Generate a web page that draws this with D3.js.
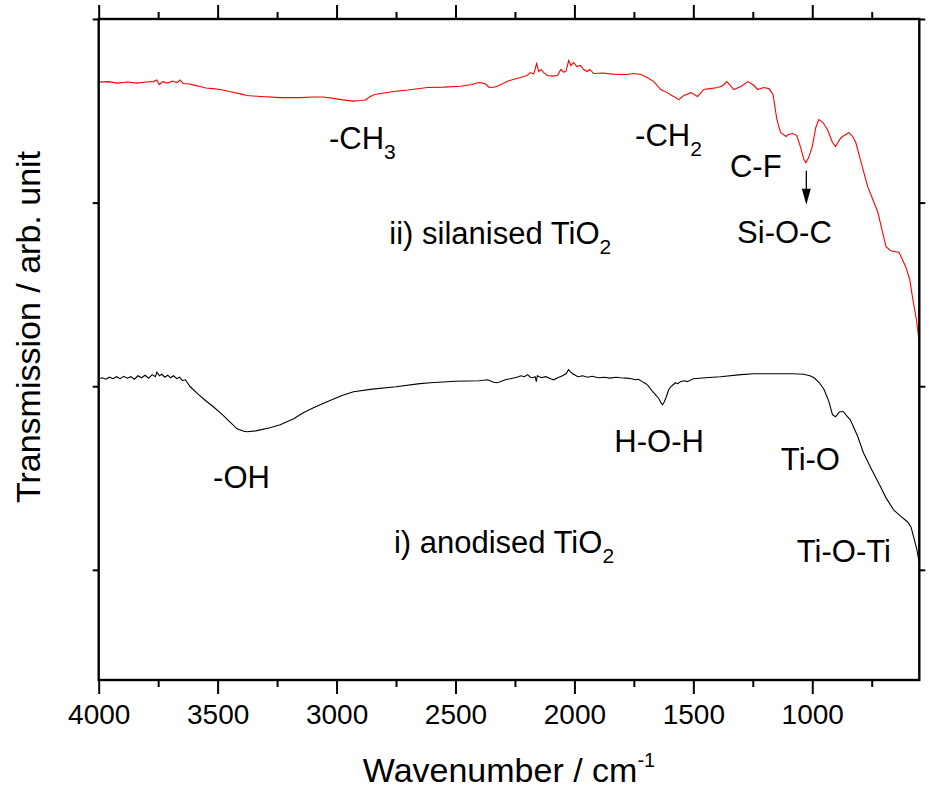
<!DOCTYPE html>
<html><head><meta charset="utf-8">
<script src="https://cdn.jsdelivr.net/npm/d3@7/dist/d3.min.js"></script>
<style>
body{margin:0;background:#fff}
text{font-family:"Liberation Sans",Arial,Helvetica,sans-serif;fill:#000}
</style>
</head><body>
<svg id="chart" width="937" height="798"></svg>
<script>
// ---- data ----
const silanisedWavenumber = [4000,3960,3920,3880,3840,3800,3770,3756,3745,3730,3710,3690,3670,3658,3645,3620,3600,3574,3550,3520,3490,3440,3400,3378,3320,3237,3150,3100,3056,3020,2980,2930,2900,2880,2858,2840,2800,2760,2700,2618,2550,2479,2430,2403,2385,2373,2360,2345,2324,2300,2282,2250,2226,2200,2184,2171,2159,2150,2140,2129,2113,2090,2071,2057,2045,2036,2024,2015,2003,1990,1975,1961,1947,1935,1919,1880,1840,1800,1778,1750,1720,1694,1666,1637,1610,1590,1561,1540,1510,1482,1456,1430,1397,1375,1359,1345,1330,1300,1271,1250,1229,1205,1182,1165,1150,1140,1132,1110,1100,1082,1065,1050,1035,1027,1015,1000,985,973,955,936,915,902,885,873,846,830,817,800,767,745,724,705,690,670,635,607,590,577,562,550];
const silanisedValue = [2.656,2.659,2.651,2.657,2.651,2.657,2.659,2.668,2.643,2.659,2.651,2.662,2.654,2.668,2.649,2.646,2.640,2.632,2.624,2.621,2.616,2.602,2.591,2.583,2.578,2.572,2.572,2.575,2.575,2.569,2.561,2.553,2.556,2.559,2.578,2.589,2.597,2.605,2.613,2.627,2.629,2.634,2.643,2.654,2.651,2.646,2.629,2.627,2.634,2.649,2.661,2.673,2.681,2.692,2.708,2.700,2.757,2.714,2.725,2.708,2.692,2.689,2.692,2.725,2.711,2.714,2.774,2.747,2.763,2.741,2.747,2.725,2.714,2.725,2.703,2.706,2.700,2.698,2.698,2.703,2.698,2.681,2.659,2.616,2.599,2.583,2.561,2.583,2.599,2.578,2.616,2.621,2.627,2.638,2.659,2.638,2.616,2.632,2.659,2.643,2.616,2.627,2.621,2.589,2.463,2.409,2.381,2.360,2.371,2.376,2.365,2.305,2.234,2.218,2.245,2.305,2.409,2.452,2.436,2.398,2.327,2.305,2.343,2.360,2.381,2.360,2.327,2.245,2.087,2.016,1.946,1.842,1.760,1.738,1.728,1.651,1.580,1.471,1.362,1.237];

const anodisedWavenumber = [4000,3985,3970,3955,3940,3925,3910,3895,3880,3865,3850,3835,3820,3805,3790,3775,3762,3755,3745,3735,3722,3710,3698,3685,3672,3660,3648,3636,3615,3580,3550,3518,3480,3450,3418,3390,3376,3340,3280,3237,3180,3140,3097,3040,2980,2929,2850,2750,2650,2605,2500,2400,2365,2340,2323,2290,2270,2250,2235,2226,2210,2197,2185,2175,2165,2160,2156,2140,2120,2100,2087,2070,2050,2035,2025,2017,2008,2000,1985,1965,1946,1925,1900,1875,1850,1825,1806,1780,1760,1745,1730,1715,1700,1690,1678,1667,1655,1645,1636,1630,1622,1615,1604,1595,1585,1575,1565,1554,1540,1525,1500,1450,1386,1300,1246,1150,1080,1036,1010,992,970,950,930,915,902,885,869,855,840,810,785,750,713,690,658,630,600,585,574,560,550];
const anodisedValue = [1.041,1.046,1.038,1.049,1.041,1.052,1.041,1.054,1.044,1.052,1.038,1.057,1.046,1.060,1.044,1.063,1.052,1.076,1.057,1.065,1.049,1.060,1.046,1.057,1.041,1.049,1.030,1.035,0.997,0.954,0.921,0.888,0.845,0.807,0.768,0.755,0.752,0.757,0.774,0.790,0.823,0.856,0.883,0.916,0.948,0.970,0.984,0.997,1.014,1.019,1.027,1.030,1.035,1.022,1.019,1.035,1.041,1.046,1.052,1.057,1.052,1.063,1.049,1.046,1.052,1.025,1.057,1.046,1.052,1.041,1.035,1.046,1.057,1.068,1.090,1.079,1.068,1.063,1.052,1.057,1.049,1.054,1.046,1.049,1.044,1.049,1.046,1.044,1.041,1.035,1.038,1.025,1.014,1.003,0.981,0.965,0.948,0.932,0.910,0.899,0.915,0.937,0.981,0.997,1.008,1.019,1.014,1.025,1.030,1.025,1.041,1.046,1.052,1.063,1.068,1.068,1.068,1.065,1.057,1.046,1.019,0.981,0.916,0.845,0.834,0.861,0.861,0.839,0.817,0.730,0.638,0.545,0.452,0.392,0.327,0.294,0.262,0.234,0.180,0.109,0.038];

const xTicks = [4000,3500,3000,2500,2000,1500,1000];
const xMinorTicks = [3750,3250,2750,2250,1750,1250,750];
const yTicks = [0,1,2,3];

const annotations = [
  {text:"-CH", sub:"3", w:3032, v:2.294},
  {text:"-CH", sub:"2", w:1745, v:2.310},
  {text:"C-F", w:1346, v:2.141},
  {text:"Si-O-C", w:1316, v:1.781},
  {text:"ii) silanised TiO", sub:"2", w:2778, v:1.776},
  {text:"-OH", w:3519, v:0.447},
  {text:"i) anodised TiO", sub:"2", w:2759, v:0.093},
  {text:"H-O-H", w:1832, v:0.643},
  {text:"Ti-O", w:1132, v:0.545},
  {text:"Ti-O-Ti", w:1065, v:0.044}
];
const arrowW = 1025, arrowFrom = 2.174, arrowTo = 1.989;

// ---- layout ----
const svg = d3.select("#chart");
const L = 98.7, R = 919.3, T = 19, B = 680;
const x = d3.scaleLinear().domain([4000, 550]).range([L, R]);
const y = d3.scaleLinear().domain([-0.6, 3]).range([B, T]);

const line = d3.line().x(d => x(d[0])).y(d => y(d[1]));

svg.append("path")
  .datum(silanisedWavenumber.map((w,i)=>[w, silanisedValue[i]]))
  .attr("d", line).attr("fill","none").attr("stroke","#ff0000").attr("stroke-width",1.1);
svg.append("path")
  .datum(anodisedWavenumber.map((w,i)=>[w, anodisedValue[i]]))
  .attr("d", line).attr("fill","none").attr("stroke","#000").attr("stroke-width",1.1);

// axes
function styleAxis(g){
  g.select(".domain").remove();
  g.selectAll(".tick line").attr("stroke","#000").attr("stroke-width",2);
}
const fsTick = 28;
svg.append("g").attr("transform",`translate(0,${B})`)
  .call(d3.axisBottom(x).tickValues(xTicks).tickSize(14).tickPadding(10).tickFormat(d3.format("d")))
  .call(styleAxis)
  .call(g=>g.selectAll("text").attr("font-size",fsTick).attr("font-family",'"Liberation Sans",Arial,sans-serif'));
svg.append("g").attr("transform",`translate(0,${B})`)
  .call(d3.axisBottom(x).tickValues(xMinorTicks).tickSize(7).tickFormat(""))
  .call(styleAxis);
svg.append("g").attr("transform",`translate(0,${T})`)
  .call(d3.axisTop(x).tickValues(xTicks).tickSize(14).tickFormat(""))
  .call(styleAxis);
svg.append("g").attr("transform",`translate(0,${T})`)
  .call(d3.axisTop(x).tickValues(xMinorTicks).tickSize(7).tickFormat(""))
  .call(styleAxis);
svg.append("g").attr("transform",`translate(${L},0)`)
  .call(d3.axisLeft(y).tickValues(yTicks).tickSize(6).tickFormat(""))
  .call(styleAxis);
svg.append("g").attr("transform",`translate(${R},0)`)
  .call(d3.axisRight(y).tickValues(yTicks).tickSize(6).tickFormat(""))
  .call(styleAxis);

// frame
svg.append("rect").attr("x",L).attr("y",T).attr("width",R-L).attr("height",B-T)
  .attr("fill","none").attr("stroke","#000").attr("stroke-width",2.4);

// axis titles
const xt = svg.append("text").attr("x",(L+R)/2).attr("y",782)
  .attr("text-anchor","middle").attr("font-size",34);
xt.append("tspan").text("Wavenumber / cm");
xt.append("tspan").attr("font-size",20).attr("dy",-15).text("-1");

svg.append("text").attr("transform",`translate(40,${327}) rotate(-90)`)
  .attr("text-anchor","middle").attr("font-size",34).text("Transmission / arb. unit");

// annotations
annotations.forEach(a=>{
  const t = svg.append("text").attr("x",x(a.w)).attr("y",y(a.v)).attr("font-size",31);
  t.append("tspan").text(a.text);
  if(a.sub) t.append("tspan").attr("font-size",21).attr("dy",10).text(a.sub);
});

// arrow
const ax = x(arrowW), ay1 = y(arrowFrom), ay2 = y(arrowTo);
svg.append("line").attr("x1",ax).attr("x2",ax).attr("y1",ay1).attr("y2",ay2-14)
  .attr("stroke","#000").attr("stroke-width",1.3);
svg.append("path").attr("d",`M${ax-4.5},${ay2-16} L${ax+4.5},${ay2-16} L${ax},${ay2} Z`).attr("fill","#000");
</script>
</body></html>
